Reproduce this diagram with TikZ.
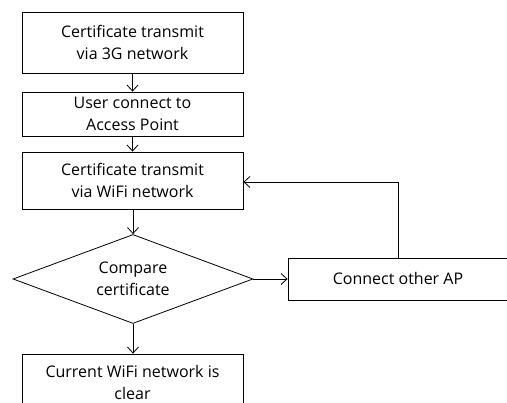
\documentclass[tikz,border=0pt]{standalone}
\usepackage{fontspec}
\setmainfont{Open Sans}
\usetikzlibrary{shapes.geometric,arrows.meta}
\tikzset{
  box/.style={draw,line width=0.8pt,minimum width=221pt,align=center,inner sep=0pt},
  decision/.style={draw,diamond,line width=0.8pt,minimum width=240pt,minimum height=89pt,inner sep=0pt},
  arr/.style={line width=0.8pt,-{Straight Barb[length=6pt,width=11pt]}}
}
\begin{document}
\begin{tikzpicture}[x=1pt,y=1pt,every node/.style={font=\fontsize{16}{22}\selectfont}]
\useasboundingbox[fill=white] (0,0) rectangle (507,403);
% main column
\node[box,minimum height=61pt] (cert3g) at (132.5,360.5) {Certificate transmit\\via 3G network};
\node[box,minimum height=44pt] (userap) at (132.5,289) {User connect to\\Access Point};
\node[box,minimum height=57pt] (certwifi) at (132.5,222.5) {Certificate transmit\\via WiFi network};
\node[decision,label={[align=center]center:Compare\\certificate}] (compare) at (133,124) {};
\node[box,minimum height=58pt] (clear) at (132.5,20) {Current WiFi network is\\clear};
% side branch
\node[box,minimum width=220pt,minimum height=42pt] (otherap) at (398,124) {Connect other AP};
\draw[arr] (cert3g) -- (userap);
\draw[arr] (userap) -- (certwifi);
\draw[arr] (certwifi.south -| compare.north) -- (compare.north);
\draw[arr] (compare.south) -- (clear.north -| compare.south);
\draw[arr] (compare.east) -- (otherap.west);
\draw[arr] (otherap.north) |- (certwifi.east |- 0,221);
\end{tikzpicture}
\end{document}
